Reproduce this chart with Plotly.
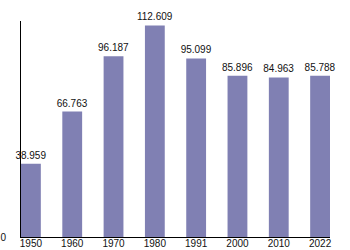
import plotly.graph_objects as go

years = ["1950", "1960", "1970", "1980", "1991", "2000", "2010", "2022"]
population = [38.959, 66.763, 96.187, 112.609, 95.099, 85.896, 84.963, 85.788]
labels = ["38.959", "66.763", "96.187", "112.609", "95.099", "85.896", "84.963", "85.788"]

fig = go.Figure(go.Bar(
    x=years, y=population, text=labels, textposition="outside",
    marker=dict(color="#8080b3", line=dict(width=0)),
    textfont=dict(family="Liberation Sans, Arial", size=10, color="#111"),
    cliponaxis=False,
))
fig.update_layout(
    width=350, height=250,
    margin=dict(l=21, r=20, t=21, b=13),
    paper_bgcolor="white", plot_bgcolor="white",
    bargap=0.52, showlegend=False,
    font=dict(family="Liberation Sans, Arial", size=10, color="#111"),
    uniformtext=dict(minsize=10, mode="show"),
)
fig.update_xaxes(type="category", range=[-0.24, 7.24], showline=True, linecolor="black",
                 linewidth=1, ticks="", showgrid=False, automargin=False,
                 ticklabelstandoff=-3, tickfont=dict(size=10))
fig.update_yaxes(range=[0, 115], showline=True, linecolor="black", linewidth=1,
                 showgrid=False, zeroline=False, tickvals=[0], ticktext=["0"],
                 ticks="", ticklabelstandoff=12, automargin=False,
                 tickfont=dict(size=10))
fig.write_html("out.html")
